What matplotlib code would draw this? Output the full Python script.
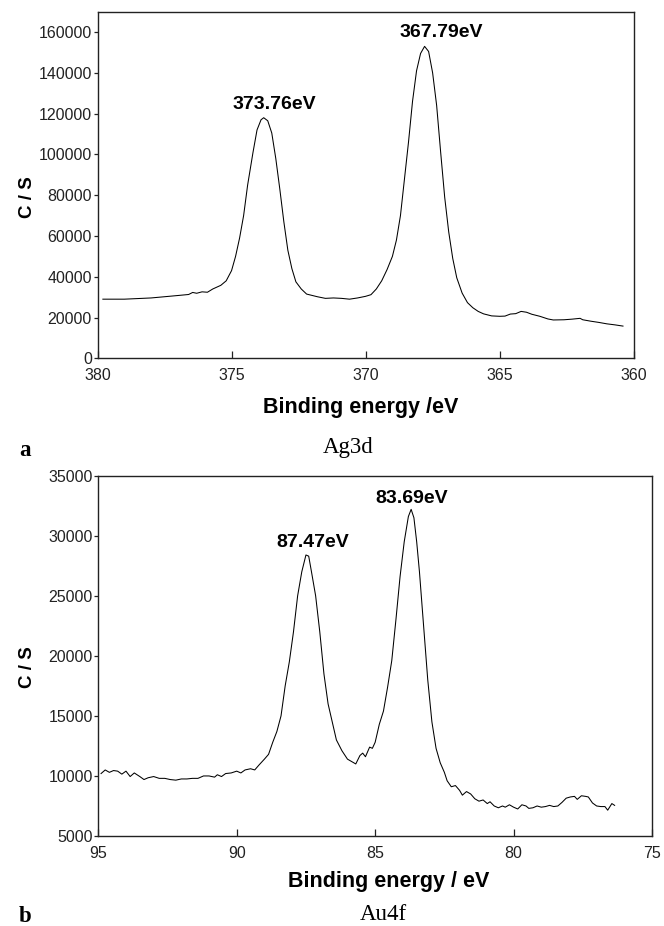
import matplotlib
matplotlib.use("Agg")
import matplotlib.pyplot as plt

# Ag3d spectrum (binding energy in eV, counts per second)
ag_energy = [379.8, 379.0, 378.5, 378.0, 377.5, 377.0, 376.6, 376.45, 376.3, 376.1, 375.9,
             375.7, 375.4, 375.2, 375.0, 374.85, 374.7, 374.55, 374.4, 374.2, 374.05, 373.9,
             373.8, 373.65, 373.5, 373.35, 373.2, 373.05, 372.9, 372.75, 372.6, 372.4, 372.2,
             371.8, 371.5, 371.2, 370.9, 370.6, 370.3, 370.0, 369.8, 369.6, 369.4, 369.2,
             369.0, 368.85, 368.7, 368.55, 368.4, 368.25, 368.1, 367.95, 367.8, 367.65, 367.5,
             367.35, 367.2, 367.05, 366.9, 366.75, 366.6, 366.4, 366.2, 366.0, 365.8, 365.6,
             365.3, 365.0, 364.8, 364.6, 364.4, 364.2, 364.0, 363.8, 363.5, 363.2, 363.0,
             362.6, 362.3, 362.0, 361.9, 361.6, 361.3, 361.0, 360.7, 360.4]
ag_counts = [29000, 29000, 29300, 29600, 30200, 30800, 31300, 32300, 31900, 32600, 32400,
             34000, 35800, 38000, 43000, 50000, 59000, 70000, 85000, 101000, 112000, 117000,
             118000, 116500, 110500, 98000, 83000, 67000, 53000, 44000, 37500, 34000, 31500,
             30200, 29400, 29600, 29400, 29000, 29600, 30400, 31200, 34000, 38000, 43500,
             50000, 58000, 70000, 88000, 106000, 126000, 141000, 149500, 153000, 150500, 140000,
             124000, 101000, 79000, 62000, 49000, 39500, 32000, 27300, 24800, 23000, 21800,
             20800, 20600, 20700, 21700, 21900, 23000, 22600, 21600, 20600, 19300, 18800,
             18900, 19200, 19600, 18900, 18200, 17600, 16900, 16400, 15800]

# Au4f spectrum
au_energy = [94.9, 94.75, 94.6, 94.45, 94.3, 94.15, 94.0, 93.85, 93.7, 93.5, 93.35, 93.2,
             93.0, 92.8, 92.6, 92.4, 92.2, 92.0, 91.8, 91.6, 91.4, 91.2, 91.0, 90.8, 90.7,
             90.55, 90.4, 90.2, 90.0, 89.85, 89.7, 89.5, 89.35, 89.2, 89.0, 88.85, 88.7,
             88.55, 88.4, 88.25, 88.1, 87.95, 87.8, 87.65, 87.5, 87.4, 87.3, 87.15, 87.0,
             86.85, 86.7, 86.55, 86.4, 86.2, 86.0, 85.85, 85.7, 85.55, 85.45, 85.35, 85.2,
             85.1, 85.0, 84.85, 84.7, 84.55, 84.4, 84.25, 84.1, 83.95, 83.8, 83.7, 83.6,
             83.5, 83.4, 83.25, 83.1, 82.95, 82.8, 82.65, 82.5, 82.4, 82.25, 82.1, 81.95,
             81.85, 81.7, 81.55, 81.4, 81.25, 81.1, 80.95, 80.85, 80.7, 80.55, 80.4, 80.3,
             80.15, 80.0, 79.85, 79.7, 79.55, 79.45, 79.3, 79.15, 79.0, 78.85, 78.7, 78.55,
             78.4, 78.25, 78.1, 77.95, 77.8, 77.7, 77.55, 77.4, 77.3, 77.15, 77.0, 76.85,
             76.7, 76.6, 76.45, 76.35]
au_counts = [10200, 10500, 10300, 10450, 10400, 10150, 10400, 9950, 10250, 9950, 9700, 9850,
             9950, 9800, 9800, 9700, 9650, 9750, 9750, 9800, 9800, 10000, 10000, 9900, 10100,
             9950, 10200, 10250, 10400, 10250, 10500, 10600, 10500, 10900, 11400, 11800, 12800,
             13700, 15000, 17500, 19500, 22000, 25000, 27000, 28400, 28300, 27000, 25000, 22000,
             18500, 16000, 14500, 13000, 12100, 11400, 11200, 11000, 11700, 11900, 11600, 12400,
             12300, 12800, 14300, 15400, 17400, 19600, 23000, 26600, 29500, 31600, 32200, 31500,
             29500, 27000, 22500, 18000, 14500, 12300, 11100, 10300, 9600, 9100, 9200, 8800,
             8400, 8700, 8500, 8100, 7900, 8000, 7700, 7850, 7500, 7350, 7500, 7400,
             7600, 7400, 7250, 7600, 7500, 7300, 7350, 7500, 7400, 7450, 7550, 7450,
             7500, 7800, 8150, 8250, 8300, 8050, 8350, 8300, 8250, 7750, 7500, 7450,
             7450, 7150, 7700, 7550]

ag_peaks = ["373.76eV", "367.79eV"]
au_peaks = ["87.47eV", "83.69eV"]

W, H = 664, 926
sans = "Liberation Sans"
serif = "Liberation Serif"
plt.rcParams["font.family"] = sans

fig = plt.figure(figsize=(W / 100, H / 100), dpi=100)


def px(x, y):
    # pixel position -> figure fraction
    return x / W, 1 - y / H


def style(ax):
    for s in ax.spines.values():
        s.set_linewidth(1.0)
        s.set_color("#222222")
    ax.tick_params(axis="x", direction="in", length=5, width=0.9, pad=7,
                   labelsize=11.5, colors="#222222")
    ax.tick_params(axis="y", direction="out", length=3, width=0.9, pad=1,
                   labelsize=11.5, colors="#222222")


# panel a
ax1 = fig.add_axes([97.5 / W, 1 - 358.3 / H, (633.7 - 97.5) / W, (358.3 - 11.7) / H])
ax1.plot(ag_energy, ag_counts, color="black", lw=0.75)
ax1.set_xlim(380, 360)
ax1.set_ylim(0, 170000)
ax1.set_xticks([380, 375, 370, 365, 360])
ax1.set_yticks(range(0, 160001, 20000))
style(ax1)
ax1.text(373.39, 124300, ag_peaks[0], ha="center", va="center", fontsize=14, fontweight="bold")
ax1.text(367.18, 159700, ag_peaks[1], ha="center", va="center", fontsize=14, fontweight="bold")

# panel b
ax2 = fig.add_axes([98.3 / W, 1 - 836 / H, (652 - 98.3) / W, (836 - 475.7) / H])
ax2.plot(au_energy, au_counts, color="black", lw=0.75)
ax2.set_xlim(95, 75)
ax2.set_ylim(5000, 35000)
ax2.set_xticks([95, 90, 85, 80, 75])
ax2.set_yticks(range(5000, 35001, 5000))
style(ax2)
ax2.text(87.24, 29400, au_peaks[0], ha="center", va="center", fontsize=14, fontweight="bold")
ax2.text(83.67, 33140, au_peaks[1], ha="center", va="center", fontsize=14, fontweight="bold")

# axis titles and captions
fig.text(*px(28, 197), "C / S", rotation=90, ha="center", va="center", fontsize=13.5, fontweight="bold")
fig.text(*px(27, 667), "C / S", rotation=90, ha="center", va="center", fontsize=13.5, fontweight="bold")
fig.text(*px(361, 407), "Binding energy /eV", ha="center", va="center", fontsize=15.5, fontweight="bold")
fig.text(*px(389, 881), "Binding energy / eV", ha="center", va="center", fontsize=15.5, fontweight="bold")
fig.text(*px(25, 450), "a", ha="center", va="center", fontsize=16.5, fontweight="bold", family=serif)
fig.text(*px(348, 448), "Ag3d", ha="center", va="center", fontsize=16.5, family=serif)
fig.text(*px(25, 916), "b", ha="center", va="center", fontsize=16.5, fontweight="bold", family=serif)
fig.text(*px(383, 914), "Au4f", ha="center", va="center", fontsize=16.5, family=serif)

fig.savefig("out.png", dpi=100)
